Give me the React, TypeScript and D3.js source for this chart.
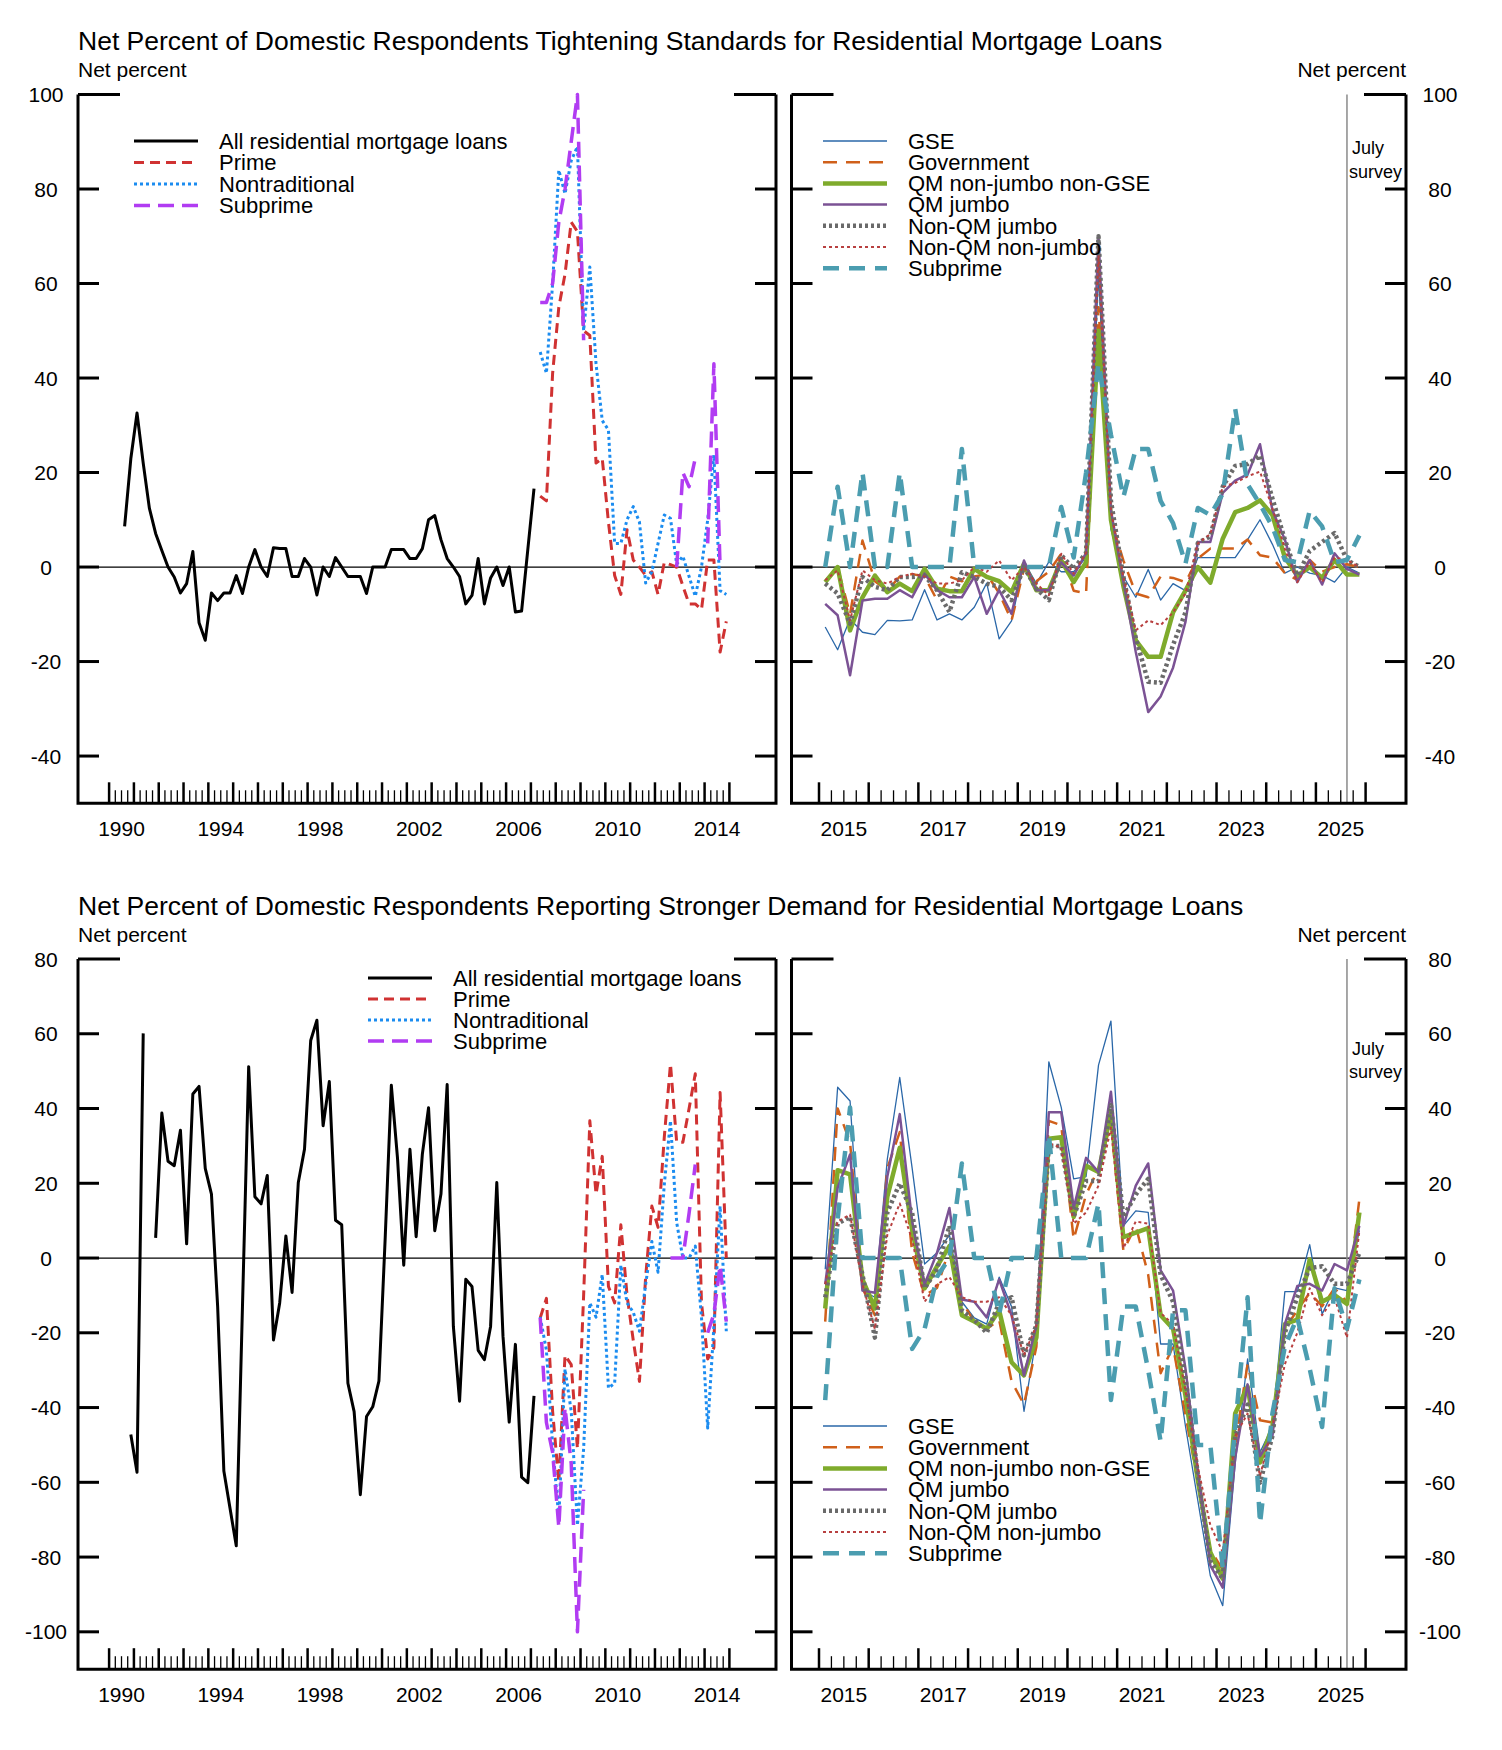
import * as d3 from "d3";

const FONT = '"Liberation Sans", Arial, Helvetica, sans-serif';

// ── Data: quarterly net percents ────────────────────────────────────────
// Each series starts at [year, quarter]; points sit at mid-quarter.
const TIGHT_ALL_START: [number, number] = [1990, 3];
const TIGHT_ALL = [
  8.6, 22.9, 32.6, 22, 12.4, 7.1, 3.5, 0, -2.1, -5.5,
  -3.5, 3.3, -11.8, -15.5, -5.5, -7.1, -5.5, -5.5, -1.8, -5.6,
  0, 3.7, 0, -2, 4.1, 3.9, 3.9, -2, -2, 1.8,
  0, -5.9, 0, -2, 2, 0, -2, -2, -2, -5.6,
  0, 0, 0, 3.7, 3.7, 3.7, 1.8, 1.8, 3.9, 10,
  10.9, 5.8, 1.8, 0, -2, -7.8, -6, 1.8, -7.8, -2.3,
  0, -3.9, 0, -9.5, -9.3, 3.7, 16.6,
];

const DEMAND_ALL_START: [number, number] = [1990, 4];
const DEMAND_ALL = [
  -47.2, -57.3, 60.1, null, 5.4, 38.8, 25.9, 24.7, 34.2, 3.8,
  43.9, 45.9, 24, 17.1, -13, -57, -67, -77, -13, 51.2,
  16.4, 14.5, 22.1, -21.9, -12, 5.9, -9.2, 20.2, 29.1, 58.2,
  63.6, 35.4, 47.2, 10.1, 8.9, -33.5, -41.1, -63.3, -42.4, -39.8,
  -32.9, 5, 46.2, 26.6, -1.9, 29.1, 5.7, 27.8, 40.2, 7.3,
  17.1, 46.4, -18.3, -38.3, -5.7, -7.6, -24.7, -27.2, -18.3, 20.2,
  -20.9, -43.9, -23.1, -58.6, -60.1, -36.9,
];

const SPLIT_START: [number, number] = [2007, 2];
const TIGHT_PRIME = [
  15, 14, 41, 55, 62, 73, 71, 50, 49, 22, 23, 9.5, -1.8, -5.8, 7.9, 1.5,
  0, -1.8, -1, -5.8, 1, 0.5, 0, -4, -7.8, -7.8, -9, 1.5, 1.5, -18, -11.5,
];
const TIGHT_NONTRAD = [
  45.5, 41, 60, 84, 79, 86, 89, 50, 63.5, 43, 31, 29, 5, 5, 10, 12.8,
  9.5, -3.4, -1, 5, 11, 10.3, 0.6, 2.3, -2, -6.2, 0, 10, 23.7, -5, -5.8,
];
const TIGHT_SUBPRIME = [
  56, 56, 60, 73, 80, 90, 100, 48,
  null, null, null, null, null, null, null, null, null, null, null, null, null, null,
  0, 20, 17, 23, null, 5, 43, 0, null,
];
const DEMAND_PRIME = [
  -16, -10.8, -41, -60, -26, -28.5, -51, -10, 36.7, 17.1, 27.2, -7.6, -12, 8.9, -10, -22,
  -33, -5, 13.9, 8.2, 32.3, 51.9, 31, 31, 40, 49.3, -12, -27, -24, 44.3, 0,
];
const DEMAND_NONTRAD = [
  -15.8, -24.7, -50, -69.6, -29.7, -41, -71.5, -51, -12, -15.8, -4.4, -34.8, -33.5, -1.9, -12, -14.5,
  -19.6, -7, 4.4, -3.8, 19.6, 36.7, 9.5, 0, 0, 3.2, -15.8, -45.5, -18.3, 13.9, -19.6,
];
const DEMAND_SUBPRIME = [
  -16, -44, -52, -72, -40, -55, -100, -62,
  null, null, null, null, null, null, null, null, null, null, null, null, null,
  0, 0, 0, 12, 25, null, -20, -15, -2, -17,
];

const QM_START: [number, number] = [2015, 1];
const TIGHT_GSE = [
  -12.7, -17.5, -11, -13.8, -14.3, -11.3, -11.4, -11.2, -4.8, -11.2, -9.9, -11.2, -8.5, -3.4, -15.2,
  -11.4, 1.1, -3.5, 1.1, -1, -1, 2, 62, 8, -2, -6.4, -0.5, -7, -3.5, -5,
  2, 2, 2, 2, 5.8, 10, 4.8, -1.3, 0, -1.3, -1.8, -3.2, 0, -1.3,
];
const TIGHT_GOV = [
  -3, 0, -10, 5.6, -3, -5, -2, -1.5, -2, -7, -2, -3, -2, -1.5, -5.5,
  -11.3, -0.4, -3, -1, 2.8, -5, -5.6, 55, 10, 1.4, -5.6, -6.4, -2, -2.3, -3.2,
  1.8, 3.9, 3.9, 3.9, 5.8, 2.5, 2, -1.3, -2.7, 1.5, -1, 0, 0.6, 0,
];
const TIGHT_QM_NONJUMBO = [
  -3.2, 0, -13.4, -6.4, -1.8, -5.3, -3.5, -5.1, -0.4, -4.6, -5.1, -5.1, -0.4, -2.1, -3,
  -5.3, 0.7, -4.9, -4.9, 1.4, -3.2, 1, 50, 10, -4, -15.5, -19, -19, -9.6, -5,
  0, -3.3, 6, 11.6, 12.5, 14.1, 11, 2, -1.8, 0, -2.3, 1.5, -1.6, -1.6,
];
const TIGHT_QM_JUMBO = [
  -7.8, -10.2, -22.9, -7.1, -6.7, -6.7, -4.9, -6.4, -1.4, -4.9, -6.4, -6.4, -2.1, -9.9, -4.9,
  -9.9, 1.4, -4.9, -4.9, 1, -1.8, 3, 70, 12, -3, -18, -30.7, -27.4, -21.3, -11.6,
  5.3, 5.3, 15.7, 18.3, 19.6, 26, 12, 5.8, -3.2, 1.5, -3.7, 2.9, -0.4, -1.6,
];
const TIGHT_NONQM_JUMBO = [
  -3.5, -5.6, -12, -2.1, -4.2, -4.9, -2.1, -2.1, -1.8, -4.9, -9.5, -1.1, -2.1, -3.5, -4.2,
  -7, 0, -4.6, -7, 2.5, -0.4, 3, 70, 14, -2, -15, -24.3, -24.5, -16.5, -9.6,
  5.1, 6.5, 17, 21.4, 21.8, 23.6, 14.5, 5.8, -1.8, 3.4, 5.3, 7.2, 1.5, 0,
];
const TIGHT_NONQM_NONJUMBO = [
  -2.8, -0.7, -11.3, -0.7, -2.8, -3.5, -2.1, -1.4, -2, -3.5, -3.5, -2.8, 0, -1, 1.4,
  -2.8, 0, -3.5, -6, 2.8, -1.4, 3, 66, 12, -2, -13.4, -11.3, -12.3, -9.6, -5.6,
  5, 7, 17, 17.8, 19.2, 20.2, 12.4, 3.9, -3.2, 1, -3.2, 2, 1.5, 0,
];
const TIGHT_QM_SUBPRIME = [
  0, 17, 0, 20, 0, 0, 20, 0, 0, 0, 0, 25, 0, 0, 0,
  0, 0, 0, 0, 12.7, 2, 20, 43, 28, 14.8, 25, 25, 14, 9.3, 0.7,
  12.5, 11, 15.5, 33.5, 17.5, 13.3, 8.5, 1.5, 1, 11.9, 8.6, 1, 1.5, 6.7,
];

const DEMAND_GSE = [
  -3, 45.7, 42, -8.7, -10.5, 26.5, 48.3, 24, -1.6, 1.4, 6.2, -11.7, -16, -17.7, -5.1,
  -13, -41, -21.3, 52.5, 40.3, 21.2, 21.8, 51.6, 63.4, 8.6, 12.6, 12.2, -23, -23, -45,
  -65, -85, -93, -55, -27, -52, -45, -9, -9, 3.6, -15, -8, -8.7, 7.4,
];
const DEMAND_GOV = [
  -17, 40, 31, -8, -15.3, 24, 33.7, 1.4, -10, -8, 2.6, -11.7, -17, -19, -16.5,
  -33, -39.2, -23.7, 36.7, 35.5, 5, 17, 24, 36, 2, 8.6, -4.5, -30.8, -23.7, -42,
  -60, -78, -83.4, -50, -28.4, -43.4, -44, -18.9, -14, -9.3, -12.9, -8.1, -11.7, 15.8,
];
const DEMAND_QM_NONJUMBO = [
  -13.5, 23.5, 22.4, -5.7, -13.5, 16.4, 29.5, 7.4, -8.1, -2.2, 3.2, -15.3, -17, -18.9, -14,
  -27.9, -31.4, -21.3, 31.9, 32.3, 11, 24.7, 23, 39, 5.6, 6.8, 8, -15.3, -18.9, -36.8,
  -59.5, -78.7, -85.8, -41.6, -34.4, -54.7, -45, -17.7, -16.5, -0.4, -11.7, -9.9, -12.3, 12.2,
];
const DEMAND_QM_JUMBO = [
  -7, 18.8, 27.7, -8.7, -9.3, 21.8, 38.5, 9.8, -7, 1.4, 13.4, -11.1, -11.7, -15.9, -5.7,
  -15.3, -31.4, -18, 39, 39, 13.4, 26.8, 23, 44.5, 8.6, 19.4, 25.3, -3.3, -8.7, -29.6,
  -57, -82.2, -88.2, -53.5, -33.8, -53, -47.6, -17.7, -7.5, -6.9, -8.7, -1.6, -3.3, 8.6,
];
const DEMAND_NONQM_JUMBO = [
  -10.5, 9.2, 11, -4.5, -21.3, 12.2, 20, 12, -8.1, -3, 8.6, -14, -16.5, -20, -12,
  -10.5, -26, -18, 30, 30, 11, 20.6, 20.6, 40.9, 11, 17, 21.2, -4.5, -11.7, -32,
  -58, -81, -85.8, -47.6, -39.2, -60.1, -47.6, -20, -10.5, -2.7, -2.2, -6.9, -6.9, 1.4,
];
const DEMAND_NONQM_NONJUMBO = [
  -7, 9.8, 11.6, -7, -19, 6.2, 14.6, 5, -11.7, -7, -5.1, -10.5, -11.7, -11.7, -10.5,
  -15.3, -26, -18, 30.7, 29.5, 9.2, 12.2, 19.4, 34.9, 2.6, 9.8, 9.2, -14.7, -17.7, -35.6,
  -56, -71.5, -78.7, -47.6, -41.6, -58.3, -45, -28.4, -20, -8.1, -15.3, -10.5, -21.3, 7.4,
];
const DEMAND_QM_SUBPRIME = [
  -38, 10.4, 40.3, 0, 0, 0, 0, -24.3, -19, -5, 0, 25.3, 0, 0, -15,
  0, 0, 0, 33, 0, 0, 0, 14.6, -38, -13, -13, -30, -49, -14, -14,
  -50, -50, -83, -45, -10.5, -71, -41.6, -23.7, -15.9, -29.6, -45.2, -8.1, -18.9, -5.7,
];

// ── Labels and ticks ────────────────────────────────────────────────────
const TITLES = [
  "Net Percent of Domestic Respondents Tightening Standards for Residential Mortgage Loans",
  "Net Percent of Domestic Respondents Reporting Stronger Demand for Residential Mortgage Loans",
];
const TIGHT_Y_TICKS = [100, 80, 60, 40, 20, 0, -20, -40];
const DEMAND_Y_TICKS = [80, 60, 40, 20, 0, -20, -40, -60, -80, -100];
const LEFT_YEARS = d3.range(1990, 2016);
const RIGHT_YEARS = d3.range(2015, 2027);
const LEFT_YEAR_LABELS = [1990, 1994, 1998, 2002, 2006, 2010, 2014];
const RIGHT_YEAR_LABELS = [2015, 2017, 2019, 2021, 2023, 2025];
const JULY_SURVEY = 2025.625;

const LEFT_NAMES = ["All residential mortgage loans", "Prime", "Nontraditional", "Subprime"];
const RIGHT_NAMES = [
  "GSE",
  "Government",
  "QM non-jumbo non-GSE",
  "QM jumbo",
  "Non-QM jumbo",
  "Non-QM non-jumbo",
  "Subprime",
];

// ── Styles ──────────────────────────────────────────────────────────────
type Style = { color: string; width: number; dash?: string };
const LEFT_STYLES: Style[] = [
  { color: "#000000", width: 3 },
  { color: "#d03232", width: 3, dash: "10,6" },
  { color: "#1b8cf0", width: 3, dash: "3,3" },
  { color: "#b13cf2", width: 3.5, dash: "16,8" },
];
const RIGHT_STYLES: Style[] = [
  { color: "#2a67a8", width: 1.3 },
  { color: "#d0601a", width: 2.5, dash: "14,9" },
  { color: "#7fab2c", width: 4.5 },
  { color: "#7b5294", width: 2.5 },
  { color: "#6a6a6a", width: 4.5, dash: "3,3" },
  { color: "#b84040", width: 2, dash: "3,3" },
  { color: "#4b9db0", width: 4.5, dash: "16,10" },
];

type Pt = [number, number | null];
const toPoints = (start: [number, number], vals: (number | null)[]): Pt[] =>
  vals.map((v, i) => [start[0] + (start[1] - 1 + i) / 4 + 0.125, v]);

interface PanelProps {
  xs: d3.ScaleLinear<number, number>;
  ys: d3.ScaleLinear<number, number>;
  x0: number;
  x1: number;
  yTicks: number[];
  years: number[];
  yearLabels: number[];
  series: { pts: Pt[]; style: Style }[];
  labelSide: "left" | "right";
  july?: boolean;
  julyY?: [number, number];
  legend: { x: number; y: number; dy: number; names: string[]; styles: Style[] };
}

function Panel(p: PanelProps) {
  const { xs, ys, x0, x1, yTicks } = p;
  const yTop = ys(yTicks[0]);
  const yBot = ys(ys.domain()[0]);
  const line = d3
    .line<Pt>()
    .defined((d) => d[1] !== null)
    .x((d) => xs(d[0]))
    .y((d) => ys(d[1] as number));
  const minors = p.years.slice(0, -1).flatMap((y) => [0.25, 0.5, 0.75].map((f) => y + f));
  const labelX = p.labelSide === "left" ? x0 - 32 : x1 + 34;

  return (
    <g>
      <line x1={x0} x2={x1} y1={ys(0)} y2={ys(0)} stroke="#000" strokeWidth={1.2} />
      {p.july && (
        <line x1={xs(JULY_SURVEY)} x2={xs(JULY_SURVEY)} y1={yTop} y2={yBot} stroke="#8a8a8a" strokeWidth={1.5} />
      )}
      {p.july && p.julyY && (
        <g fontSize={18}>
          <text x={xs(JULY_SURVEY) + 5} y={p.julyY[0]}>July</text>
          <text x={xs(JULY_SURVEY) + 2} y={p.julyY[1]}>survey</text>
        </g>
      )}
      {p.series.map((s, i) => (
        <path
          key={i}
          d={line(s.pts) ?? ""}
          fill="none"
          stroke={s.style.color}
          strokeWidth={s.style.width}
          strokeDasharray={s.style.dash}
          strokeLinejoin="round"
        />
      ))}
      <path d={`M${x0},${yTop}V${yBot}H${x1}V${yTop}`} fill="none" stroke="#000" strokeWidth={3} />
      {yTicks.map((v, i) => {
        const len = i === 0 ? 42 : 21;
        return (
          <g key={v} stroke="#000" strokeWidth={3}>
            <line x1={x0} x2={x0 + len} y1={ys(v)} y2={ys(v)} />
            <line x1={x1 - len} x2={x1} y1={ys(v)} y2={ys(v)} />
          </g>
        );
      })}
      {p.years.map((y) => (
        <line key={y} x1={xs(y)} x2={xs(y)} y1={yBot} y2={yBot - 21} stroke="#000" strokeWidth={2.5} />
      ))}
      {minors.map((t) => (
        <line key={t} x1={xs(t)} x2={xs(t)} y1={yBot} y2={yBot - 13} stroke="#000" strokeWidth={1.3} />
      ))}
      {p.yearLabels.map((y) => (
        <text key={y} x={xs(y + 0.5)} y={yBot + 33} textAnchor="middle" fontSize={21}>
          {y}
        </text>
      ))}
      {yTicks.map((v) => (
        <text key={v} x={labelX} y={ys(v) + 7.5} textAnchor="middle" fontSize={21}>
          {v}
        </text>
      ))}
      {p.legend.names.map((name, i) => {
        const st = p.legend.styles[i];
        const y = p.legend.y + i * p.legend.dy;
        return (
          <g key={name}>
            <line
              x1={p.legend.x}
              x2={p.legend.x + 64}
              y1={y}
              y2={y}
              stroke={st.color}
              strokeWidth={st.width}
              strokeDasharray={st.dash}
            />
            <text x={p.legend.x + 85} y={y + 7.8} fontSize={22}>
              {name}
            </text>
          </g>
        );
      })}
    </g>
  );
}

export default function App() {
  // x scales: year boundaries → pixels
  const xLeft = d3.scaleLinear().domain([1990, 2015]).range([109.1, 729.4]);
  const xRight = d3.scaleLinear().domain([2015, 2026]).range([819, 1365.6]);
  const yTight = d3.scaleLinear().domain([-50, 100]).range([803.3, 94.5]);
  const yDemand = d3.scaleLinear().domain([-110, 80]).range([1669.2, 959]);

  const tightLeft = [
    toPoints(TIGHT_ALL_START, TIGHT_ALL),
    toPoints(SPLIT_START, TIGHT_PRIME),
    toPoints(SPLIT_START, TIGHT_NONTRAD),
    toPoints(SPLIT_START, TIGHT_SUBPRIME),
  ].map((pts, i) => ({ pts, style: LEFT_STYLES[i] }));
  const demandLeft = [
    toPoints(DEMAND_ALL_START, DEMAND_ALL),
    toPoints(SPLIT_START, DEMAND_PRIME),
    toPoints(SPLIT_START, DEMAND_NONTRAD),
    toPoints(SPLIT_START, DEMAND_SUBPRIME),
  ].map((pts, i) => ({ pts, style: LEFT_STYLES[i] }));
  const tightRight = [
    TIGHT_GSE,
    TIGHT_GOV,
    TIGHT_QM_NONJUMBO,
    TIGHT_QM_JUMBO,
    TIGHT_NONQM_JUMBO,
    TIGHT_NONQM_NONJUMBO,
    TIGHT_QM_SUBPRIME,
  ].map((v, i) => ({ pts: toPoints(QM_START, v), style: RIGHT_STYLES[i] }));
  const demandRight = [
    DEMAND_GSE,
    DEMAND_GOV,
    DEMAND_QM_NONJUMBO,
    DEMAND_QM_JUMBO,
    DEMAND_NONQM_JUMBO,
    DEMAND_NONQM_NONJUMBO,
    DEMAND_QM_SUBPRIME,
  ].map((v, i) => ({ pts: toPoints(QM_START, v), style: RIGHT_STYLES[i] }));

  return (
    <div style={{ position: "absolute", left: 0, top: 0 }}>
      <svg width={1502} height={1750} fontFamily={FONT} style={{ display: "block", background: "#fff" }}>
        {/* top chart */}
        <text x={78} y={50} fontSize={26.5}>{TITLES[0]}</text>
        <text x={78} y={77} fontSize={21}>Net percent</text>
        <text x={1406} y={77} fontSize={21} textAnchor="end">Net percent</text>
        <Panel
          xs={xLeft}
          ys={yTight}
          x0={78}
          x1={776}
          yTicks={TIGHT_Y_TICKS}
          years={LEFT_YEARS}
          yearLabels={LEFT_YEAR_LABELS}
          series={tightLeft}
          labelSide="left"
          legend={{ x: 134, y: 141, dy: 21.5, names: LEFT_NAMES, styles: LEFT_STYLES }}
        />
        <Panel
          xs={xRight}
          ys={yTight}
          x0={791.5}
          x1={1406}
          yTicks={TIGHT_Y_TICKS}
          years={RIGHT_YEARS}
          yearLabels={RIGHT_YEAR_LABELS}
          series={tightRight}
          labelSide="right"
          july
          julyY={[153.5, 178]}
          legend={{ x: 823, y: 141, dy: 21.2, names: RIGHT_NAMES, styles: RIGHT_STYLES }}
        />

        {/* bottom chart */}
        <text x={78} y={915} fontSize={26.5}>{TITLES[1]}</text>
        <text x={78} y={942} fontSize={21}>Net percent</text>
        <text x={1406} y={942} fontSize={21} textAnchor="end">Net percent</text>
        <Panel
          xs={xLeft}
          ys={yDemand}
          x0={78}
          x1={776}
          yTicks={DEMAND_Y_TICKS}
          years={LEFT_YEARS}
          yearLabels={LEFT_YEAR_LABELS}
          series={demandLeft}
          labelSide="left"
          legend={{ x: 368, y: 978, dy: 21, names: LEFT_NAMES, styles: LEFT_STYLES }}
        />
        <Panel
          xs={xRight}
          ys={yDemand}
          x0={791.5}
          x1={1406}
          yTicks={DEMAND_Y_TICKS}
          years={RIGHT_YEARS}
          yearLabels={RIGHT_YEAR_LABELS}
          series={demandRight}
          labelSide="right"
          july
          julyY={[1055, 1078]}
          legend={{ x: 823, y: 1426, dy: 21.2, names: RIGHT_NAMES, styles: RIGHT_STYLES }}
        />
      </svg>
    </div>
  );
}
